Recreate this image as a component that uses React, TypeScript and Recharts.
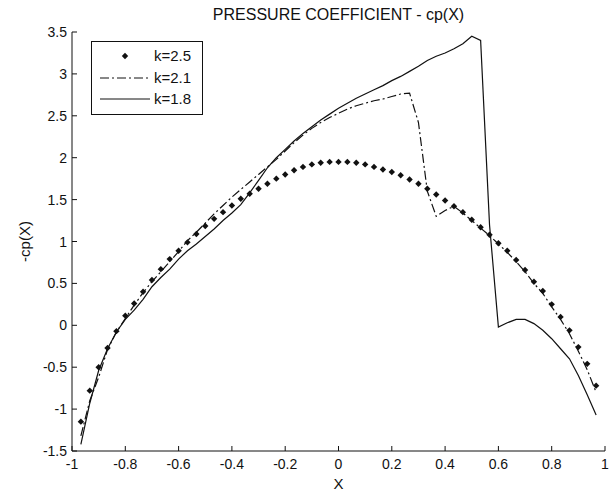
import { LineChart, Line, XAxis, YAxis } from 'recharts';

// x stations along the chord
const xs = [
  -0.9667, -0.9333, -0.9, -0.8667, -0.8333, -0.8, -0.7667, -0.7333, -0.7, -0.6667,
  -0.6333, -0.6, -0.5667, -0.5333, -0.5, -0.4667, -0.4333, -0.4, -0.3667, -0.3333,
  -0.3, -0.2667, -0.2333, -0.2, -0.1667, -0.1333, -0.1, -0.0667, -0.0333, 0,
  0.0333, 0.0667, 0.1, 0.1333, 0.1667, 0.2, 0.2333, 0.2667, 0.3, 0.3333,
  0.3667, 0.4, 0.4333, 0.4667, 0.5, 0.5333, 0.5667, 0.6, 0.6333, 0.6667,
  0.7, 0.7333, 0.7667, 0.8, 0.8333, 0.8667, 0.9, 0.9333, 0.9667,
];

// -cp for k=2.5 (dots)
const k25 = [
  -1.15, -0.78, -0.5, -0.27, -0.07, 0.115, 0.26, 0.4, 0.54, 0.67,
  0.79, 0.89, 0.99, 1.09, 1.185, 1.27, 1.35, 1.43, 1.51, 1.57,
  1.63, 1.69, 1.75, 1.8, 1.85, 1.89, 1.92, 1.94, 1.95, 1.95,
  1.95, 1.94, 1.92, 1.89, 1.86, 1.83, 1.79, 1.74, 1.69, 1.63,
  1.56, 1.49, 1.42, 1.35, 1.26, 1.17, 1.08, 0.98, 0.89, 0.78,
  0.66, 0.52, 0.41, 0.25, 0.1, -0.06, -0.26, -0.46, -0.72,
];

// -cp for k=2.1 (dash-dot)
const k21 = [
  -1.32, -0.9, -0.62, -0.29, -0.08, 0.08, 0.24, 0.39, 0.52, 0.64,
  0.76, 0.88, 1.01, 1.11, 1.22, 1.33, 1.43, 1.53, 1.62, 1.71,
  1.8, 1.89, 1.98, 2.08, 2.18, 2.27, 2.35, 2.42, 2.48, 2.53,
  2.58, 2.62, 2.65, 2.68, 2.7, 2.73, 2.76, 2.77, 2.42, 1.6,
  1.3, 1.37, 1.42, 1.34, 1.25, 1.16, 1.07, 0.97, 0.87, 0.76,
  0.64, 0.5, 0.38, 0.22, 0.07, -0.1, -0.31, -0.53, -0.8,
];

// -cp for k=1.8 (solid)
const k18 = [
  -1.42, -0.93, -0.54, -0.28, -0.08, 0.07, 0.18, 0.31, 0.46, 0.57,
  0.67, 0.79, 0.89, 0.97, 1.06, 1.15, 1.25, 1.34, 1.44, 1.58,
  1.73, 1.88, 2.0, 2.1, 2.2, 2.29, 2.37, 2.45, 2.52, 2.59,
  2.65, 2.71, 2.76, 2.81, 2.86, 2.92, 2.97, 3.03, 3.09, 3.16,
  3.21, 3.25, 3.3, 3.36, 3.45, 3.4, 1.2, -0.02, 0.03, 0.07,
  0.07, 0.02, -0.06, -0.16, -0.28, -0.4, -0.6, -0.83, -1.07,
];

const xTicks = [-1, -0.8, -0.6, -0.4, -0.2, 0, 0.2, 0.4, 0.6, 0.8, 1];
const yTicks = [-1.5, -1, -0.5, 0, 0.5, 1, 1.5, 2, 2.5, 3, 3.5];

const rows = xs.map((x, i) => ({ x, k25: k25[i], k21: k21[i], k18: k18[i] }));

const FONT = '"Liberation Sans", Arial, Helvetica, sans-serif';
const INK = '#111';
const TL = 5; // inward tick length
const DASHDOT = '9 3 2 3';

function BottomTick({ x, y, payload }: any) {
  return (
    <g>
      <line x1={x} y1={y} x2={x} y2={y - TL} stroke={INK} />
      <text x={x} y={y + 18} textAnchor="middle" fontSize={14} fontFamily={FONT} fill={INK}>
        {payload.value}
      </text>
    </g>
  );
}

function TopTick({ x, y }: any) {
  return <line x1={x} y1={y} x2={x} y2={y + TL} stroke={INK} />;
}

function LeftTick({ x, y, payload }: any) {
  return (
    <g>
      <line x1={x} y1={y} x2={x + TL} y2={y} stroke={INK} />
      <text x={x - 5} y={y + 5} textAnchor="end" fontSize={14} fontFamily={FONT} fill={INK}>
        {payload.value}
      </text>
    </g>
  );
}

function RightTick({ x, y }: any) {
  return <line x1={x} y1={y} x2={x - TL} y2={y} stroke={INK} />;
}

function Diamond(props: any) {
  const { cx, cy, index } = props;
  if (cx == null || cy == null) return <g key={index} />;
  const r = 3.2;
  return (
    <polygon
      key={index}
      points={`${cx},${cy - r} ${cx + r},${cy} ${cx},${cy + r} ${cx - r},${cy}`}
      fill={INK}
    />
  );
}

function LegendBox() {
  const rowsY = [15, 37, 58];
  return (
    <svg
      width={112}
      height={74}
      style={{ position: 'absolute', left: 91, top: 41, overflow: 'visible' }}
    >
      <rect x={0.5} y={0.5} width={111} height={73} fill="#fff" stroke={INK} />
      <polygon points="34,11.8 37.2,15 34,18.2 30.8,15" fill={INK} />
      <line x1={9} x2={59} y1={rowsY[1]} y2={rowsY[1]} stroke={INK} strokeDasharray={DASHDOT} />
      <line x1={9} x2={59} y1={rowsY[2]} y2={rowsY[2]} stroke={INK} />
      {['k=2.5', 'k=2.1', 'k=1.8'].map((t, i) => (
        <text key={t} x={63} y={rowsY[i] + 5} fontSize={15} fontFamily={FONT} fill={INK}>
          {t}
        </text>
      ))}
    </svg>
  );
}

export default function App() {
  return (
    <div style={{ position: 'absolute', left: 0, top: 0, width: 611, height: 493, background: '#fff' }}>
      <LineChart
        width={611}
        height={493}
        data={rows}
        margin={{ top: 32, right: 6, bottom: 0, left: 0 }}
      >
        <XAxis
          dataKey="x"
          type="number"
          domain={[-1, 1]}
          ticks={xTicks}
          height={42}
          tickSize={0}
          tickMargin={0}
          tick={<BottomTick />}
          axisLine={{ stroke: INK }}
          interval={0}
          label={{ value: 'X', position: 'insideBottom', offset: 4, fontSize: 15, fontFamily: FONT, fill: INK }}
        />
        <XAxis
          xAxisId="top"
          orientation="top"
          dataKey="x"
          type="number"
          domain={[-1, 1]}
          ticks={xTicks}
          height={0}
          tickSize={0}
          tickMargin={0}
          tick={<TopTick />}
          axisLine={{ stroke: INK }}
          interval={0}
        />
        <YAxis
          type="number"
          domain={[-1.5, 3.5]}
          ticks={yTicks}
          width={72}
          tickSize={0}
          tickMargin={0}
          tick={<LeftTick />}
          axisLine={{ stroke: INK }}
          interval={0}
          label={{
            value: '-cp(X)',
            angle: -90,
            position: 'insideLeft',
            offset: 25,
            style: { textAnchor: 'middle', fontSize: 15, fontFamily: FONT, fill: INK },
          }}
        />
        <YAxis
          yAxisId="right"
          orientation="right"
          type="number"
          domain={[-1.5, 3.5]}
          ticks={yTicks}
          width={0}
          tickSize={0}
          tickMargin={0}
          tick={<RightTick />}
          axisLine={{ stroke: INK }}
          interval={0}
        />
        <Line
          dataKey="k18"
          type="linear"
          stroke={INK}
          strokeWidth={1.2}
          dot={false}
          activeDot={false}
          isAnimationActive={false}
        />
        <Line
          dataKey="k21"
          type="linear"
          stroke={INK}
          strokeWidth={1.2}
          strokeDasharray={DASHDOT}
          dot={false}
          activeDot={false}
          isAnimationActive={false}
        />
        <Line
          dataKey="k25"
          type="linear"
          stroke="none"
          dot={Diamond}
          activeDot={false}
          isAnimationActive={false}
        />
      </LineChart>
      <div
        style={{
          position: 'absolute',
          left: 72,
          top: 6,
          width: 533,
          textAlign: 'center',
          fontFamily: FONT,
          fontSize: 16,
          lineHeight: '18px',
          color: INK,
        }}
      >
        PRESSURE COEFFICIENT - cp(X)
      </div>
      <LegendBox />
    </div>
  );
}
